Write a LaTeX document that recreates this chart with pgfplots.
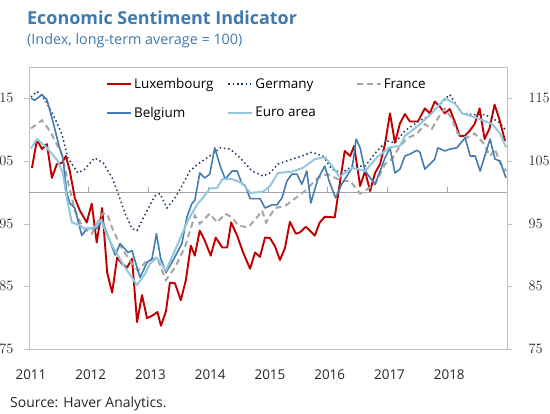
\documentclass[border=0pt]{standalone}
\usepackage{fontspec}
\setmainfont{Open Sans}
\usepackage{pgfplots}
\pgfplotsset{compat=1.18}
\definecolor{ttl}{RGB}{64,121,176}
\definecolor{lux}{RGB}{192,0,0}
\definecolor{ger}{RGB}{31,56,100}
\definecolor{fra}{RGB}{166,166,166}
\definecolor{bel}{RGB}{68,124,176}
\definecolor{eur}{RGB}{146,200,222}
\definecolor{axg}{RGB}{191,191,191}
\begin{document}
\begin{tikzpicture}[x=1bp,y=1bp]
\useasboundingbox (0,0) rectangle (550,413);
\node[anchor=base west,inner sep=0,text=ttl,font=\fontsize{18}{21}\selectfont\bfseries] at (27,388) {Economic Sentiment Indicator};
\node[anchor=base west,inner sep=0,text=ttl,font=\fontsize{14.4}{17}\selectfont] at (27,369) {(Index, long-term average = 100)};
\node[anchor=base west,inner sep=0,text=black!85,font=\fontsize{14}{17}\selectfont] at (10,6) {Source: Haver Analytics.};
\begin{axis}[at={(29bp,64bp)}, anchor=south west, scale only axis,
  width=478bp, height=282bp,
  xmin=0, xmax=96, ymin=75, ymax=120,
  axis line style={draw=axg},
  ytick={75,85,95,105,115}, ytick pos=left, tick align=outside,
  major tick length=5bp, y tick style={draw=axg},
  xtick={0.4,12.4,24.4,36.4,48.4,60.4,72.4,84.4},
  xticklabels={2011,2012,2013,2014,2015,2016,2017,2018},
  x tick style={draw=none},
  tick label style={font=\fontsize{13.5}{16}\selectfont, text=black!85},
  yticklabel style={xshift=-7bp},
  xticklabel style={yshift=-12bp},
  legend columns=3,
  legend style={at={(74/478,1)}, yshift=-7bp, anchor=north west, draw=none, fill=none,
    font=\fontsize{13.5}{16}\selectfont, row sep=13bp,
    /tikz/column 2/.style={column sep=12bp},
    /tikz/column 4/.style={column sep=38bp}},
  legend cell align=left,
  legend image code/.code={\draw[#1] (0bp,0bp) -- (24bp,0bp);},
]
\draw[color=gray!70, line width=0.8bp] (axis cs:0,100) -- (axis cs:96,100);
\draw[color=gray!70, line width=0.8bp] (axis cs:12,100) -- ([yshift=5bp]axis cs:12,100);
\draw[color=gray!70, line width=0.8bp] (axis cs:24,100) -- ([yshift=5bp]axis cs:24,100);
\draw[color=gray!70, line width=0.8bp] (axis cs:36,100) -- ([yshift=5bp]axis cs:36,100);
\draw[color=gray!70, line width=0.8bp] (axis cs:48,100) -- ([yshift=5bp]axis cs:48,100);
\draw[color=gray!70, line width=0.8bp] (axis cs:60,100) -- ([yshift=5bp]axis cs:60,100);
\draw[color=gray!70, line width=0.8bp] (axis cs:72,100) -- ([yshift=5bp]axis cs:72,100);
\draw[color=gray!70, line width=0.8bp] (axis cs:84,100) -- ([yshift=5bp]axis cs:84,100);

\addplot[color=lux, line width=1.9bp, line join=round] coordinates {
(0.6,103.9) (1.6,108.4) (2.6,106.9) (3.6,107.7) (4.6,102.3) (5.6,104.5) (6.6,104.7) (7.4,105.8) (8.2,103.4) (9.2,99.1) (10.2,97.1) (11.6,95.2) (12.6,98.2) (13.6,92) (14.7,97.5) (15.7,87.2) (16.7,84.0) (17.7,89.6) (18.7,88.6) (19.7,88.0) (20.7,89.4) (21.7,79.3) (22.7,83.6) (23.7,79.9) (24.9,80.4) (25.8,80.9) (26.5,78.7) (27.5,81.0) (28.3,85.6) (29.3,85.5) (30.5,82.8) (31.5,86) (32.5,91.5) (33.3,89.9) (34.3,93.9) (35.3,92.3) (36.5,89.9) (37.5,92.8) (38.8,91.2) (39.8,91.2) (40.6,95.2) (41.8,93.1) (43,90.4) (44.4,87.8) (45.4,90.4) (46.4,89.7) (47.4,92.8) (48.4,92.7) (49.4,91.4) (50.4,89.2) (51.4,91.1) (52.4,95.3) (53.6,93.4) (54.4,93.6) (55.6,94.5) (56.4,93.9) (57.4,93.1) (58.4,95.2) (59.4,96.1) (61.4,96) (62.4,101.3) (63.4,106.6) (64.5,105.8) (65.3,107.4) (66.5,101) (67.5,103.4) (68.5,100.2) (69.5,103.1) (70.5,104.5) (71.5,107.7) (72.5,112.6) (73.5,107.9) (74.5,111) (75.5,112.5) (76.5,111.3) (78.1,111.3) (79.5,113.4) (80.5,112.6) (81.5,114.5) (82.5,113.7) (83.5,112.6) (84.5,113.3) (85.5,111.3) (86.5,109) (87.5,109) (88.5,109.8) (89.5,110.9) (90.5,113.4) (91.5,108.5) (92.5,110.2) (93.5,114) (94.5,111.6) (95.6,108.2)
};
\addlegendentry{Luxembourg}
\addplot[color=ger, line width=1.5bp, dash pattern=on 1.5bp off 2.8bp] coordinates {
(0.4,115.2) (1.6,116.1) (3.2,114.8) (5.2,111.8) (6.6,109.3) (7.8,105.5) (9.8,103.1) (11.2,103.7) (13.2,105.5) (14.9,104.7) (16.7,102.3) (17.9,99.8) (19.3,96.6) (20.7,94.2) (21.7,93.9) (22.7,95.5) (24.3,98.0) (25.3,99.4) (26.3,99.8) (27.7,97.5) (29.3,99.1) (30.7,101) (32.3,103.4) (33.9,104.5) (36.3,105.8) (38.4,107.1) (40.4,106.9) (42.4,105.5) (44.8,103.4) (47,102.6) (48.4,103.1) (50,104.5) (52.8,105.3) (54.8,105.8) (56.8,106.4) (59,105.8) (60.8,103.7) (62.8,103.1) (64.9,104.2) (67.5,104.2) (69.9,106.6) (71.9,108.2) (73.5,107.9) (75.5,109.8) (78.1,111.3) (80.1,112.1) (82.1,113.7) (84.5,115.6) (85.5,114.4) (87,112.6) (89,112.4) (91.6,112.4) (94.2,111.3) (95.6,110.1)
};
\addlegendentry{Germany}
\addplot[color=fra, line width=2bp, dash pattern=on 6bp off 4bp] coordinates {
(0.4,110.2) (2.6,111.5) (4.2,109.8) (6.6,106.1) (7.8,101.8) (9.2,97.1) (10.8,94.4) (12.6,93.4) (14.7,96.6) (15.7,96.6) (16.9,93.9) (18.7,91) (20.3,89.1) (21.9,87.5) (23.3,88.8) (25.7,89.6) (27.5,86) (29.3,88) (31.3,91.2) (33.3,96.3) (34.3,95) (36.3,96.6) (37.8,95.2) (39.4,96.6) (40.8,96) (42,94.7) (44,94.4) (45.8,96) (46.8,97.1) (47.6,95.2) (49.4,97.5) (51.4,97.8) (53.4,99) (55.4,100.2) (58,102.3) (60,102.9) (62.8,101.8) (64.5,101.8) (66.5,99.8) (69.5,101.3) (71.5,104.5) (72.9,105.3) (74.5,107.4) (76.1,108.7) (77.9,109.3) (79.5,110.9) (80.9,110.1) (82.1,111.8) (83.5,113.4) (84.9,111.8) (86.1,109.4) (87.9,108.7) (89.5,109.4) (91.2,107.9) (92.6,105.8) (93.6,106.9) (94.6,104.7) (95.8,103.4)
};
\addlegendentry{France}
\addplot[color=bel, line width=1.6bp, line join=round] coordinates {
(0.4,115) (1.2,114.7) (2.6,115.6) (3.6,114.8) (4.8,111.3) (6.2,106.9) (6.8,105.5) (7.6,99.8) (8.2,98.3) (9.2,97.5) (10.6,93.1) (11.6,94.2) (13.6,94.2) (14.7,95.5) (17.3,90.0) (18.3,91.8) (19.9,90.4) (20.7,90.7) (22.3,86.4) (23.7,88.8) (24.7,89.4) (25.6,93.4) (26.4,89.6) (27.5,87.2) (28.9,89.1) (30.7,91.8) (31.7,96) (32.7,98.2) (33.3,98.7) (34.3,103.1) (35.3,102.3) (36.3,102.9) (37.3,107.1) (38.4,104.2) (39.4,102.1) (40.8,103.4) (41.8,103.4) (42.8,101.3) (43.4,101.1) (44.4,99) (46.4,99) (47.4,97.5) (48.8,98) (49.8,98) (50.8,99.1) (51.8,101.8) (52.8,102.9) (53.8,102.9) (54.8,101.3) (55.8,103.4) (56.6,98.3) (58,102.1) (59.4,104.2) (60.4,101.5) (61.6,99.1) (62.8,101.3) (64.9,103.9) (65.7,108.5) (66.5,107.1) (67.5,103.4) (69.5,101.3) (71.5,105.5) (72.5,107.1) (73.5,103.1) (74.5,103.7) (75.5,105.8) (76.5,106.1) (77.9,106.7) (78.5,106.4) (79.5,103.7) (81.5,105.3) (82.1,107.1) (83.5,106.6) (84.5,106.9) (85.9,107.1) (87.6,108.7) (88.6,105.8) (89.6,105.8) (90.6,103.4) (92.6,108.5) (93.6,105.3) (94.6,105) (95.8,102.3)
};
\addlegendentry{Belgium}
\addplot[color=eur, line width=2bp, line join=round] coordinates {
(0.4,107.0) (1.6,108.5) (3.5,107.2) (5.8,105.0) (6.8,103.0) (7.6,99.1) (8.6,95.2) (10,94.8) (11.2,94.2) (13.2,94.4) (14.5,95.6) (15.5,93.5) (16.9,91.2) (19.3,88.0) (21.7,85.2) (23.3,87.0) (24.3,88.6) (25.7,89.6) (27.5,87.5) (29.9,91.8) (31.9,95.5) (33.9,98.2) (35.0,99.2) (36.3,100.6) (37.8,100.7) (38.8,102.1) (40.8,102.1) (42.8,101.5) (44.4,99.9) (47,100.1) (48.4,101) (50,103.1) (52.8,103.3) (55,103.9) (57.4,105.3) (59.4,105.6) (60.4,104.7) (62.4,102.5) (64.9,103.9) (67.5,103.4) (69.9,105.6) (72.5,107.2) (74.5,107.4) (75.5,109) (78.1,110.6) (80.9,112.6) (83.5,115) (85.5,114.2) (87,112.6) (90.2,111.8) (93,110.9) (94.6,109.4) (95.8,107.2)
};
\addlegendentry{Euro area}
\end{axis}
\begin{axis}[at={(29bp,64bp)}, anchor=south west, scale only axis,
  width=478bp, height=282bp,
  xmin=0, xmax=96, ymin=75, ymax=120,
  hide x axis, axis y line*=right,
  axis line style={draw=axg},
  ytick={75,85,95,105,115}, tick align=outside,
  major tick length=5bp, y tick style={draw=axg},
  tick label style={font=\fontsize{13.5}{16}\selectfont, text=black!85},
  yticklabel style={xshift=13bp},
]
\addplot[draw=none] coordinates {(0,75) (96,120)};
\end{axis}
\end{tikzpicture}
\end{document}
